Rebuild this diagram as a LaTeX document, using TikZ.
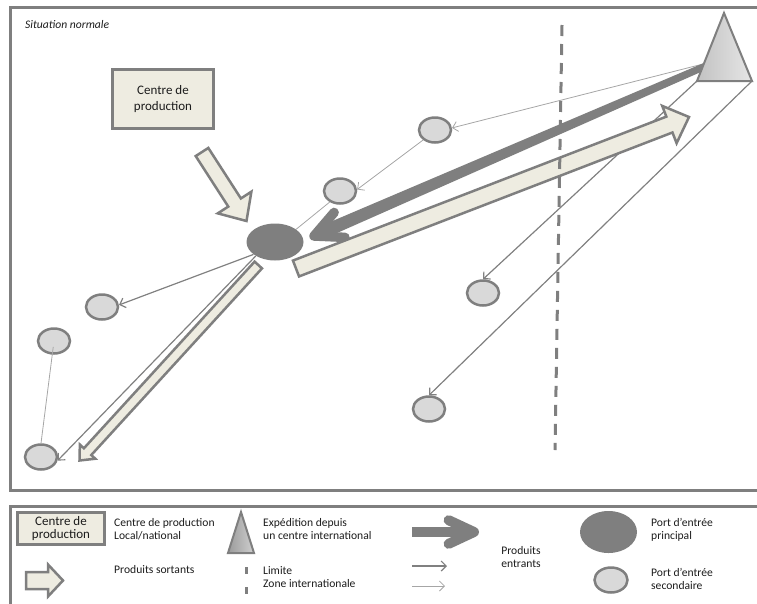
\documentclass[tikz,border=0pt]{standalone}
\usepackage{fontspec}
\setmainfont{Carlito}
\usetikzlibrary{calc,arrows.meta,shapes.geometric}

\definecolor{edgegray}{HTML}{7F7F7F}
\definecolor{beige}{HTML}{EEECE1}
\definecolor{portgray}{HTML}{D9D9D9}
\definecolor{lightline}{HTML}{A6A6A6}
\definecolor{darkline}{HTML}{808080}
\definecolor{ink}{HTML}{1C1C1C}
\definecolor{trilo}{HTML}{C2C2C2}
\definecolor{trihi}{HTML}{E6E6E6}

% outlined block arrow: [options]{tail}{tip}{half shaft}{half head}{head length}
\newcommand\blockarrow[6][]{%
  \coordinate (ba-base) at ($(#3)!#6!(#2)$);
  \draw[beigearrow,#1] ($(#2)!#4!90:(#3)$) -- ($(ba-base)!#4!90:(#3)$)
    -- ($(ba-base)!#5!90:(#3)$) -- (#3) -- ($(ba-base)!#5!-90:(#3)$)
    -- ($(ba-base)!#4!-90:(#3)$) -- ($(#2)!#4!-90:(#3)$) -- cycle;}

\begin{document}
\begin{tikzpicture}[x=1pt,y=-1pt,
  txt/.style={font=\fontsize{11.6}{13}\selectfont, text=ink, align=left, inner sep=0pt, anchor=west},
  panel/.style={draw=edgegray, line width=3pt},
  prodbox/.style={draw=edgegray, fill=beige, line width=3pt, align=center, text=ink,
    inner sep=0pt, font=\fontsize{13}{16}\selectfont},
  port/.style={ellipse, draw=edgegray, fill=portgray, line width=2.5pt,
    minimum width=32pt, minimum height=25pt, inner sep=0pt},
  hubport/.style={ellipse, fill=edgegray, minimum width=57pt, minimum height=37pt, inner sep=0pt},
  beigearrow/.style={draw=edgegray, fill=beige, line width=2.5pt, line join=miter},
  flowdark/.style={draw=darkline, line width=1.2pt, -{Straight Barb[length=5pt,width=10pt]}},
  flowlight/.style={draw=lightline, line width=0.8pt, -{Straight Barb[length=5pt,width=10pt]}},
  linklight/.style={draw=lightline, line width=0.8pt},
  chevron/.style={draw=edgegray, line cap=round, line join=round},
  limitline/.style={draw=edgegray, line width=3pt},
  tri/.style={draw=edgegray, line width=2pt, line join=miter}
]
\useasboundingbox (0,0) rectangle (757,603);

% ---------- frames ----------
\draw[panel] (10,7) rectangle (761,490);
\draw[panel] (10,506) rectangle (761,614);

\node[txt, font=\fontsize{11.6}{13}\selectfont\itshape] (title) at (25,25) {Situation normale};

% ---------- places ----------
\node[prodbox, minimum width=101pt, minimum height=59pt] (prod) at (163,99) {Centre de\\production};
\node[hubport] (hub) at (275,242) {};
\node[port] (p1) at (435,130) {};
\node[port] (p2) at (340,191) {};
\node[port] (p3) at (102,307) {};
\node[port] (p4) at (54,341) {};
\node[port] (p5) at (41,457) {};
\node[port] (p6) at (483,293) {};
\node[port] (p7) at (429,409) {};

% international shipping centre
\coordinate (intl-apex) at (724,13);
\coordinate (intl-left) at (697,81);
\coordinate (intl-right) at (752,81);
\coordinate (intl-out) at (707,63);

% ---------- thin flows ----------
\draw[flowlight] (intl-out) -- (p1.7);
\draw[flowlight] (p1.220) -- (p2.5);
\draw[linklight] (p2.227) -- (hub.31);
\draw[flowdark] (hub.210) -- (p3.7);
\draw[flowdark] (hub.216) -- (p5.-12);
\draw[linklight, shorten <=6pt] (p4.center) -- (p5.north);
\draw[flowdark] (intl-left) -- (p6.north);
\draw[flowdark] (intl-right) -- (p7.north);

% ---------- main incoming flow ----------
\coordinate (in-tail) at (708,65);
\coordinate (in-tip) at (314,236);
\coordinate (in-neck) at ($(in-tip)!8pt!(in-tail)$);
\fill[edgegray] ($(in-tail)!3.5pt!90:(in-tip)$) -- ($(in-neck)!6.5pt!90:(in-tip)$)
  -- ($(in-neck)!6.5pt!-90:(in-tip)$) -- ($(in-tail)!3.5pt!-90:(in-tip)$) -- cycle;
\draw[chevron, line width=9.5pt] ($(in-tip)!31pt!26:(in-tail)$) -- (in-tip) -- ($(in-tip)!31pt!-26:(in-tail)$);

% ---------- outgoing products ----------
\coordinate (out-tail) at (296,268.5);
\coordinate (out-tip) at (689,117);
\blockarrow{out-tail}{out-tip}{8.5pt}{20pt}{21pt}

\coordinate (feed-tail) at (202,152);
\coordinate (feed-tip) at (246.5,221);
\blockarrow{feed-tail}{feed-tip}{7.5pt}{20pt}{22pt}

\coordinate (loc-tail) at (258.3,265);
\coordinate (loc-tip) at (79.5,460.5);
\blockarrow{loc-tail}{loc-tip}{5pt}{10.5pt}{12pt}

% international centre on top of its outgoing lines
\shade[left color=trilo, right color=trihi] (intl-apex) -- (intl-left) -- (intl-right) -- cycle;
\draw[tri] (intl-apex) -- (intl-left) -- (intl-right) -- cycle;

% ---------- international zone limit ----------
\coordinate (limit-top) at (562,25);
\coordinate (limit-bot) at (555,450);
\draw[limitline, dash pattern=on 11pt off 8pt] (limit-top) -- (limit-bot);

% ---------- legend ----------
\node[prodbox, minimum width=87pt, minimum height=32pt, font=\fontsize{13}{13.5}\selectfont] (leg-prod) at (61,528.5) {Centre de\\production};
\node[txt] (leg-prod-txt) at (114,529.5) {Centre de production\\Local/national};

\coordinate (leg-tri-apex) at (241,512);
\coordinate (leg-tri-left) at (228,553);
\coordinate (leg-tri-right) at (254,553);
\shade[left color=trilo!80!black, right color=trihi!90!black] (leg-tri-apex) -- (leg-tri-left) -- (leg-tri-right) -- cycle;
\draw[tri] (leg-tri-apex) -- (leg-tri-left) -- (leg-tri-right) -- cycle;
\node[txt] (leg-intl-txt) at (263,529.5) {Expédition depuis\\un centre international};

\coordinate (leg-out-tail) at (26,580.5);
\coordinate (leg-out-tip) at (63,580.5);
\blockarrow{leg-out-tail}{leg-out-tip}{8.5pt}{16pt}{15pt}
\node[txt] (leg-out-txt) at (114,570) {Produits sortants};

\coordinate (leg-lim-top) at (246,567);
\coordinate (leg-lim-bot) at (246,594);
\draw[limitline, dash pattern=on 7pt off 13pt] (leg-lim-top) -- (leg-lim-bot);
\node[txt] (leg-lim-txt) at (263,577) {Limite\\Zone internationale};

\coordinate (leg-in-tail) at (412,532);
\coordinate (leg-in-tip) at (474,532);
\draw[edgegray, line width=10pt] (leg-in-tail) -- ($(leg-in-tip)!4pt!(leg-in-tail)$);
\draw[chevron, line width=10pt] ($(leg-in-tip)!28pt!25:(leg-in-tail)$) -- (leg-in-tip) -- ($(leg-in-tip)!28pt!-25:(leg-in-tail)$);
\coordinate (leg-dk-a) at (412,566);
\coordinate (leg-dk-b) at (447,566);
\draw[flowdark] (leg-dk-a) -- (leg-dk-b);
\coordinate (leg-lt-a) at (412,586);
\coordinate (leg-lt-b) at (445,586);
\draw[flowlight] (leg-lt-a) -- (leg-lt-b);
\node[txt, align=center, anchor=center] (leg-in-txt) at (521,557) {Produits\\entrants};

\node[hubport, minimum width=57pt, minimum height=42pt] (leg-hub) at (608.5,532) {};
\node[txt] (leg-hub-txt) at (651,530) {Port d’entrée\\principal};
\node[port, minimum width=33pt, minimum height=25pt] (leg-port) at (611,580) {};
\node[txt] (leg-port-txt) at (651,579) {Port d’entrée\\secondaire};

\end{tikzpicture}
\end{document}
